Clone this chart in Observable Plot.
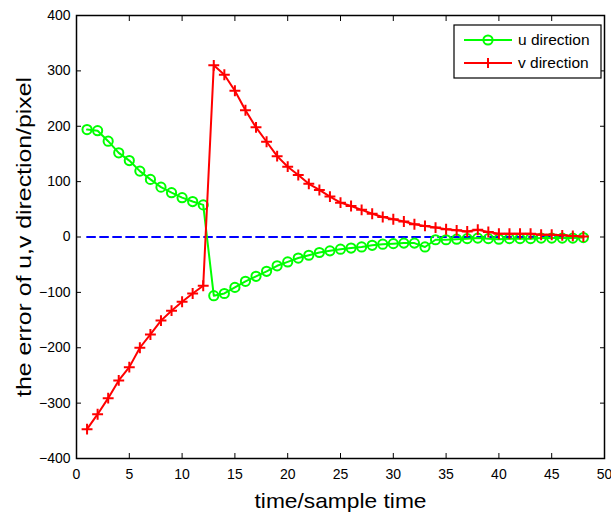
<!DOCTYPE html>
<html><head>
<meta charset="utf-8">
<script src="https://cdn.jsdelivr.net/npm/d3@7"></script>
<script src="https://cdn.jsdelivr.net/npm/@observablehq/plot@0.6"></script>
<style>body{margin:0;background:#fff}</style>
</head><body><div id="chart"></div>
<script>
const sampleTime = [1,2,3,4,5,6,7,8,9,10,11,12,13,14,15,16,17,18,19,20,21,22,23,24,25,26,27,28,29,30,31,32,33,34,35,36,37,38,39,40,41,42,43,44,45,46,47,48];
const uDirection = [194,192,173,152,138,119,104,90,80,71,64,58,-106,-102,-91,-80,-71,-62,-52,-45,-38,-33,-28,-25,-22,-20,-18,-15,-13,-12,-11,-11,-18,-5,-5,-4,-3,-2,-3,-4,-3,-3,-3,-2,-2,-2,-2,-1];
const vDirection = [-347,-320,-291,-259,-235,-200,-176,-151,-133,-117,-102,-88,310,293,264,229,198,172,146,127,112,96,85,73,62,56,49,42,36,32,28,23,20,17,14,12,10,13,9,6,6,6,6,4,4,3,2,1];
const zeroLine = [{t: 1, v: 0}, {t: 48, v: 0}];
const xTicks = [0,5,10,15,20,25,30,35,40,45,50];
const yTicks = [-400,-300,-200,-100,0,100,200,300,400];
const seriesNames = ["u direction", "v direction"];
const seriesColors = ["#00ff00", "#ff0000"];
const xLabel = "time/sample time";
const yLabel = "the error of u,v direction/pixel";

const uData = sampleTime.map((t, i) => ({t, v: uDirection[i]}));
const vData = sampleTime.map((t, i) => ({t, v: vDirection[i]}));

const plot = Plot.plot({
  width: 611,
  height: 513,
  marginLeft: 76,
  marginRight: 7,
  marginTop: 15,
  marginBottom: 55,
  style: {fontFamily: "'Liberation Sans', Arial, sans-serif", fontSize: "14px", background: "#fff", color: "#000"},
  x: {domain: [0, 50], label: null},
  y: {domain: [-400, 400], label: null},
  marks: [
    Plot.axisX({ticks: xTicks, tickSize: -5, tickPadding: 16, label: null, fontSize: 14}),
    Plot.axisX({anchor: "top", ticks: xTicks, tickSize: -5, tickFormat: () => "", label: null}),
    Plot.axisY({ticks: yTicks, tickSize: -5, tickPadding: 11, label: null, fontSize: 14}),
    Plot.axisY({anchor: "right", ticks: yTicks, tickSize: -5, tickFormat: () => "", label: null}),
    Plot.lineY(zeroLine, {x: "t", y: "v", stroke: "#0000ff", strokeWidth: 2, strokeDasharray: "8,5"}),
    Plot.lineY(uData, {x: "t", y: "v", stroke: seriesColors[0], strokeWidth: 2}),
    Plot.dot(uData, {x: "t", y: "v", r: 4.6, stroke: seriesColors[0], strokeWidth: 2, fill: "none"}),
    Plot.lineY(vData, {x: "t", y: "v", stroke: seriesColors[1], strokeWidth: 2}),
    Plot.dot(vData, {x: "t", y: "v", r: 3.6, symbol: "plus", stroke: seriesColors[1], strokeWidth: 2}),
    Plot.frame({stroke: "#000", strokeWidth: 1.5}),
    Plot.text([yLabel], {frameAnchor: "left", textAnchor: "middle", dx: -52, rotate: -90, fontSize: 21, className: "ylab"}),
    Plot.text([xLabel], {frameAnchor: "bottom", textAnchor: "middle", dy: 49, fontSize: 21, className: "xlab"})
  ]
});

const svg = d3.select(plot);
svg.selectAll(".ylab text").attr("textLength", 320).attr("lengthAdjust", "spacingAndGlyphs");
svg.selectAll(".xlab text").attr("textLength", 172).attr("lengthAdjust", "spacingAndGlyphs");

// legend box (MATLAB-style, inside plot upper right)
const lg = svg.append("g").attr("font-family", "'Liberation Sans', Arial, sans-serif").attr("font-size", 15.5);
lg.append("rect").attr("x", 454).attr("y", 25).attr("width", 147).attr("height", 53)
  .attr("fill", "#fff").attr("stroke", "#000").attr("stroke-width", 1.2);
const rowsY = [40, 63];
seriesNames.forEach((name, i) => {
  const y = rowsY[i];
  lg.append("line").attr("x1", 464).attr("x2", 512).attr("y1", y).attr("y2", y)
    .attr("stroke", seriesColors[i]).attr("stroke-width", 2);
  if (i === 0) {
    lg.append("circle").attr("cx", 488).attr("cy", y).attr("r", 4.6).attr("fill", "none")
      .attr("stroke", seriesColors[i]).attr("stroke-width", 2);
  } else {
    lg.append("path").attr("d", `M${488-5},${y}H${488+5}M488,${y-5}V${y+5}`)
      .attr("stroke", seriesColors[i]).attr("stroke-width", 2);
  }
  lg.append("text").attr("x", 518).attr("y", y).attr("dy", "0.35em")
    .attr("text-anchor", "start").attr("fill", "#000").text(name);
});

document.getElementById("chart").appendChild(plot);
</script>
</body></html>
